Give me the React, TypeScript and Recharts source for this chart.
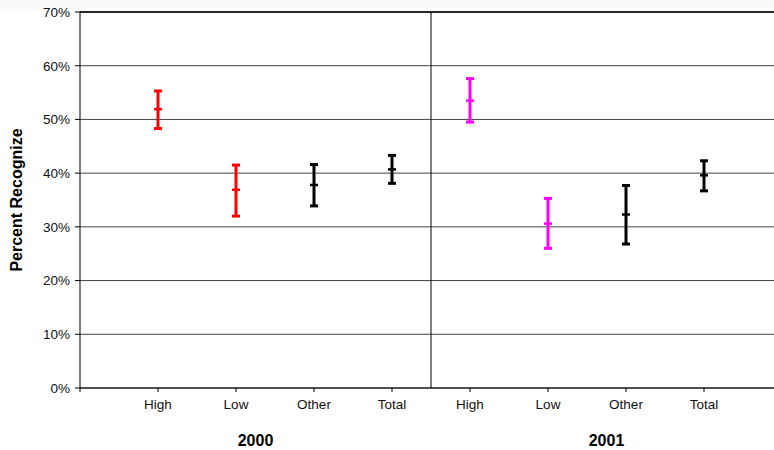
import { ComposedChart, Scatter, ErrorBar, XAxis, YAxis, CartesianGrid, ReferenceLine } from "recharts";

const categories = ["High", "Low", "Other", "Total", "High", "Low", "Other", "Total"];
const years = ["2000", "2001"];
const yearCenters = [2.25, 6.75];
const means = [51.9, 36.9, 37.8, 40.7, 53.5, 30.6, 32.3, 39.6];
const lower = [48.3, 32.0, 33.9, 38.1, 49.5, 26.0, 26.8, 36.7];
const upper = [55.3, 41.5, 41.6, 43.3, 57.6, 35.3, 37.7, 42.3];
const pointColors = ["#ff0000", "#ff0000", "#000000", "#000000", "#ff00ff", "#ff00ff", "#000000", "#000000"];
const yTicks = [0, 10, 20, 30, 40, 50, 60, 70];

const rows = categories.map((c, i) => ({
  x: i + 1,
  y: means[i],
  err: [means[i] - lower[i], upper[i] - means[i]],
  color: pointColors[i],
}));

const yearRows = yearCenters.map((x) => ({ x, y: 0 }));

const seriesColors = ["#ff0000", "#ff00ff", "#000000"];

const MeanMark = (props: any) => {
  const { cx, cy, fill } = props;
  return <line x1={cx - 4} x2={cx + 4} y1={cy} y2={cy} stroke={fill} strokeWidth={2.5} />;
};

export default function App() {
  return (
    <div
      style={{
        position: "absolute",
        left: 0,
        top: 0,
        width: 774,
        height: 450,
        overflow: "hidden",
        background: "linear-gradient(#f7f7f7 0px, #fbfbfb 11px, #ffffff 12px)",
        fontFamily: "'Liberation Sans', Arial, sans-serif",
      }}
    >
      <ComposedChart width={782} height={450} margin={{ top: 12, right: 0, left: 0, bottom: 2 }}>
        <CartesianGrid xAxisId="cat" vertical={false} stroke="#444" />
        <XAxis
          xAxisId="cat"
          type="number"
          dataKey="x"
          domain={[0, 9]}
          ticks={[0, 1, 2, 3, 4, 5, 6, 7, 8]}
          tickFormatter={(v: number) => (v >= 1 && v <= 8 ? categories[v - 1] : "")}
          stroke="#000"
          tickSize={4}
          tickMargin={7}
          height={30}
          tick={{ fill: "#111", fontSize: 13.5 }}
          allowDataOverflow
        />
        <XAxis
          xAxisId="year"
          type="number"
          dataKey="x"
          domain={[0, 9]}
          ticks={yearCenters}
          tickFormatter={(v: number) => (v < 4.5 ? years[0] : years[1])}
          axisLine={false}
          tickLine={false}
          tickSize={0}
          tickMargin={17}
          height={30}
          tick={{ fill: "#000", fontSize: 16, fontWeight: "bold" }}
        />
        <YAxis
          type="number"
          domain={[0, 70]}
          ticks={yTicks}
          tickFormatter={(v: number) => `${v}%`}
          stroke="#000"
          width={80}
          tickSize={5}
          tickMargin={5}
          tick={{ fill: "#111", fontSize: 13.5 }}
          label={{
            value: "Percent Recognize",
            angle: -90,
            position: "insideLeft",
            offset: 16,
            style: { textAnchor: "middle", fontWeight: "bold", fontSize: 16, fill: "#000" },
          }}
        />
        <ReferenceLine xAxisId="cat" y={70} stroke="#000" strokeWidth={1.5} />
        <ReferenceLine xAxisId="cat" x={4.5} stroke="#000" strokeWidth={1} />
        <Scatter xAxisId="year" data={yearRows} dataKey="y" shape={() => <g />} isAnimationActive={false} />
        {seriesColors.map((col) => (
          <Scatter
            key={col}
            xAxisId="cat"
            data={rows.filter((r) => r.color === col)}
            dataKey="y"
            fill={col}
            shape={MeanMark}
            isAnimationActive={false}
          >
            <ErrorBar dataKey="err" direction="y" width={4} stroke={col} strokeWidth={3} />
          </Scatter>
        ))}
      </ComposedChart>
    </div>
  );
}
